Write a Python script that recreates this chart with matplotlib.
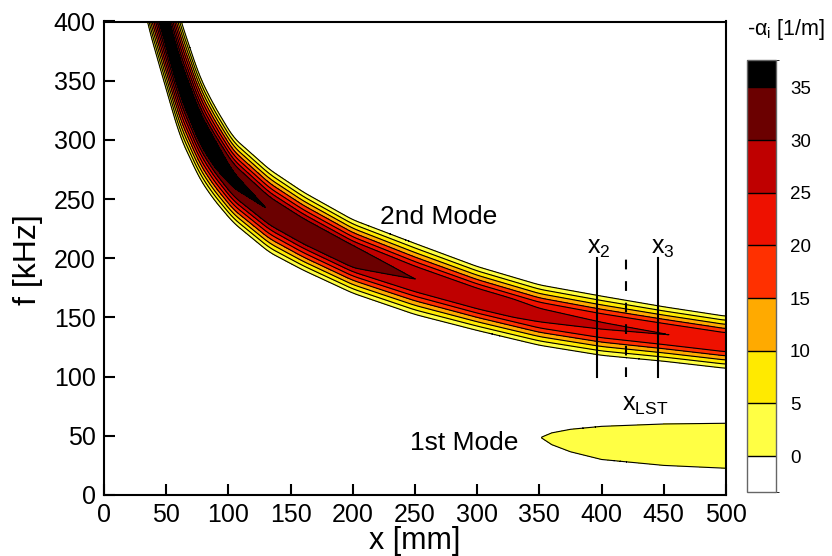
import numpy as np
import matplotlib
matplotlib.use("Agg")
from matplotlib import pyplot as plt
from matplotlib.colors import ListedColormap, BoundaryNorm
from matplotlib.cm import ScalarMappable

plt.rcParams['font.family'] = ['Liberation Sans', 'DejaVu Sans']
plt.rcParams['mathtext.fontset'] = 'custom'
plt.rcParams['mathtext.rm'] = 'Liberation Sans'
plt.rcParams['mathtext.it'] = 'Liberation Sans'
plt.rcParams['lines.scale_dashes'] = False

# 2nd mode ridge: centre frequency, half band width and peak growth rate along x
ridge_x = [20, 35, 48, 61, 77, 88, 104, 133, 160, 200, 250, 300, 350, 400, 450, 500]
ridge_f = [530, 450, 402, 353, 310, 290, 266, 240, 223, 201.5, 182.5, 166, 152, 143, 136, 129]
ridge_hw = [55, 52, 52, 50, 43, 40, 36, 35, 33, 31, 30, 27, 25.5, 25, 23, 22]
ridge_peak = [39, 39, 39, 39, 38.8, 38.5, 37, 34.8, 34.2, 33, 30, 28.3, 26.8, 25.9, 25.1, 24.2]

# 1st mode lobe
lobe_x = [352, 360, 375, 400, 450, 500]
lobe_f = [48.5, 47.5, 46, 44, 42.5, 41.6]
lobe_hw = [0.5, 5, 9.5, 14, 17.5, 19]
lobe_peak = 2.0

# colour levels of -alpha_i
cbar_bounds = [-3.4, 0, 5, 10, 15, 20, 25, 30, 35, 37.6]
cbar_ticks = [0, 5, 10, 15, 20, 25, 30, 35]
band_colors = ['#ffffff', '#ffff44', '#ffea00', '#ffaa00', '#ff3000',
               '#ee1100', '#bf0000', '#6b0000', '#000000']

# measuring stations
station_x = [396, 420, 445]
station_f = [100, 200]


def smooth(v, n=21):
    # box filter to take the kinks out of the piecewise ridge curves
    k = np.ones(n) / n
    vp = np.pad(v, n // 2, mode='edge')
    return np.convolve(vp, k, mode='valid')


x = np.linspace(0, 500, 1001)
f = np.linspace(0, 400, 801)
X, F = np.meshgrid(x, f)

fc = smooth(np.interp(x, ridge_x, ridge_f))[None, :]
hw = smooth(np.interp(x, ridge_x, ridge_hw))[None, :]
pk = smooth(np.interp(x, ridge_x, ridge_peak))[None, :]
s = np.abs((F - fc) / hw)
# steep linear flanks, gently sloping crest
z2 = np.minimum(1.3 * pk * (1 - s), pk * (1 - 0.3 * s))

fc1 = np.interp(X, lobe_x, lobe_f)
hw1 = np.interp(X, lobe_x, lobe_hw)
z1 = lobe_peak * (1 - ((F - fc1) / hw1) ** 2)
z1[X < lobe_x[0]] = -2

Z = np.maximum(np.maximum(z2, z1), -2)

fig = plt.figure(figsize=(8.32, 5.56), dpi=100)
ax = fig.add_axes([104 / 832, 61 / 556, 622 / 832, 473.5 / 556])

fill_levels = [-2.5, 0, 5, 10, 15, 20, 25, 30, 35, 60]
ax.contourf(X, F, Z, levels=fill_levels, colors=band_colors)
ax.contour(X, F, Z, levels=cbar_ticks, colors='k', linewidths=0.8)

for sx, ls in zip(station_x, ['-', '--', '-']):
    if ls == '--':
        ax.plot([sx, sx], station_f, color='k', lw=1.5, dashes=[7, 8.5])
    else:
        ax.plot([sx, sx], station_f, color='k', lw=1.5)

ax.text(station_x[0] + 2, 198.5, 'x$_2$', fontsize=18, ha='center', va='bottom')
ax.text(station_x[2] + 4, 198.5, 'x$_3$', fontsize=18, ha='center', va='bottom')
ax.text(station_x[1] + 15, 76, 'x$_{\\mathrm{LST}}$', fontsize=18, ha='center', va='center')
ax.text(222, 235, '2nd Mode', fontsize=19, ha='left', va='center')
ax.text(246, 44, '1st Mode', fontsize=19, ha='left', va='center')

ax.set_xlim(0, 500)
ax.set_ylim(0, 400)
ax.set_xticks(np.arange(0, 501, 50))
ax.set_yticks(np.arange(0, 401, 50))
ax.tick_params(direction='in', length=8, width=1.5, labelsize=18, pad=6,
               top=False, right=False)
for sp in ax.spines.values():
    sp.set_linewidth(1.5)

fig.text(28 / 832, 1 - 260 / 556, 'f [kHz]', rotation=90, fontsize=23,
         ha='center', va='center')
fig.text(415 / 832, 1 - 549 / 556, 'x [mm]', fontsize=22, ha='center',
         va='baseline')

cax = fig.add_axes([747 / 832, 64 / 556, 29 / 832, 432 / 556])
cmap = ListedColormap(band_colors)
norm = BoundaryNorm(cbar_bounds, cmap.N)
cb = fig.colorbar(ScalarMappable(norm=norm, cmap=cmap), cax=cax,
                  boundaries=cbar_bounds, ticks=cbar_ticks, drawedges=True,
                  spacing='proportional')
cb.outline.set_edgecolor('#666666')
cb.outline.set_linewidth(1)
cb.dividers.set_linewidth(1)
cb.ax.tick_params(length=0, labelsize=13.5, pad=10)
fig.text(786 / 832, 1 - 30 / 556, '-α$_\\mathrm{i}$ [1/m]', fontsize=15.5,
         ha='center', va='center')

fig.savefig('out.png', dpi=100)
